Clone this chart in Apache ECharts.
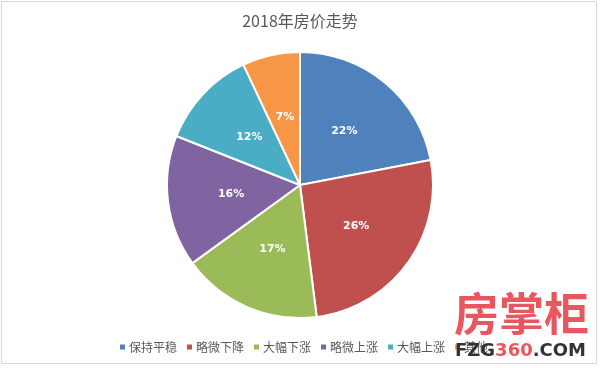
<!DOCTYPE html>
<html><head><meta charset="utf-8">
<script src="https://cdn.jsdelivr.net/npm/echarts@6/dist/echarts.min.js"></script>
<style>html,body{margin:0;padding:0;background:#fff}#c{width:600px;height:368px}</style>
</head><body><div id="c"></div>
<script>
const categories = ['保持平稳', '略微下降', '大幅下涨', '略微上涨', '大幅上涨', '其他'];
const values = [22, 26, 17, 16, 12, 7];
const colors = ['#4F81BD', '#C0504D', '#9BBB59', '#8064A2', '#4BACC6', '#F79646'];
const titleText = '2018年房价走势';

const chart = echarts.init(document.getElementById('c'));
chart.setOption({
  animation: false,
  color: colors,
  title: {
    text: titleText, left: 'center', top: 8,
    textStyle: { fontFamily: 'Noto Sans CJK SC', fontSize: 16, fontWeight: 'normal', color: '#595959' }
  },
  legend: {
    bottom: 10, left: 113, itemWidth: 7, itemHeight: 7, itemGap: 8, icon: 'rect',
    textStyle: { fontFamily: 'Noto Sans CJK SC', fontSize: 12, color: '#595959', padding: [0, 0, 0, -2] },
    data: categories
  },
  graphic: [
    { type: 'rect', shape: { x: 1.5, y: 1.5, width: 595, height: 362 }, style: { fill: 'none', stroke: '#d9d9d9', lineWidth: 1 }, z: 0 },
    { type: 'text', left: 454, top: 291, style: { text: '房掌柜', fontFamily: 'Noto Sans CJK SC', fontSize: 45, fontWeight: 'bold', fill: '#E8575F' }, z: 100 },
    { type: 'text', left: 455, top: 342, style: { rich: { a: { fontFamily: 'DejaVu Sans', fontSize: 18, fontWeight: 'bold', fill: '#333' }, b: { fontFamily: 'DejaVu Sans', fontSize: 18, fontWeight: 'bold', fill: '#E8575F' } }, text: '{a|FZG}{b|360}{a|.COM}' }, z: 100 }
  ],
  series: [{
    type: 'pie',
    center: [300, 185],
    radius: 133,
    startAngle: 90,
    clockwise: true,
    itemStyle: { borderColor: '#fff', borderWidth: 2 },
    label: {
      position: 'inner', formatter: '{d}%', color: '#fff',
      fontFamily: 'DejaVu Sans', fontSize: 11, fontWeight: 'bold'
    },
    data: categories.map((n, i) => ({ name: n, value: values[i] }))
  }]
});
</script></body></html>
